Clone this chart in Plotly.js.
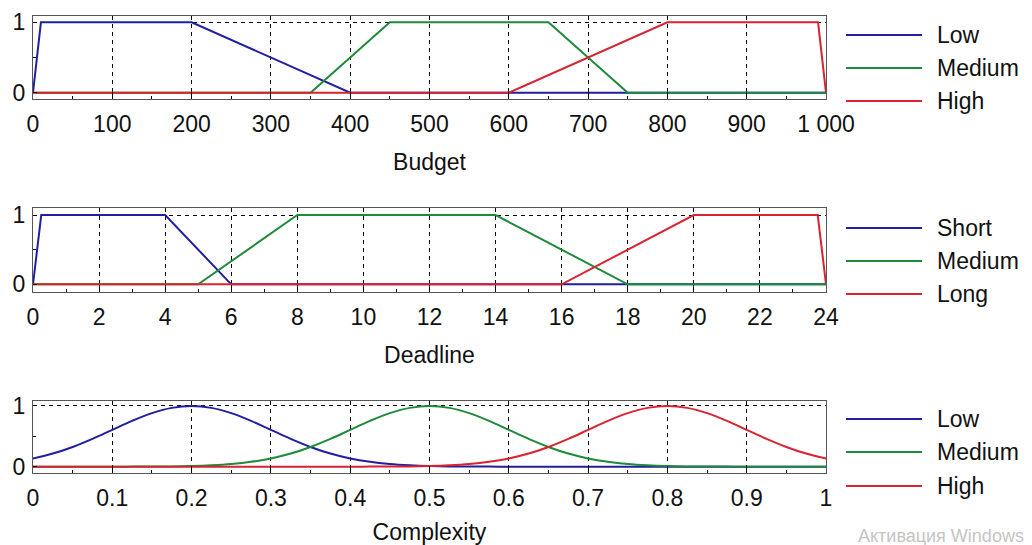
<!DOCTYPE html>
<html>
<head>
<meta charset="utf-8">
<script src="https://cdn.plot.ly/plotly-3.0.1.min.js"></script>
<style>html,body{margin:0;padding:0;background:#fff;}#chart{width:1032px;height:545px;}</style>
</head>
<body>
<div id="chart"></div>
<script>
// ---- Data ----
const budgetLowX  = [0, 10, 200, 400, 1000];
const budgetLowY  = [0, 1, 1, 0, 0];
const budgetMedX  = [0, 350, 450, 650, 750, 1000];
const budgetMedY  = [0, 0, 1, 1, 0, 0];
const budgetHighX = [0, 600, 800, 990, 1000];
const budgetHighY = [0, 0, 1, 1, 0];

const deadlineShortX = [0, 0.25, 4, 6, 24];
const deadlineShortY = [0, 1, 1, 0, 0];
const deadlineMedX   = [0, 5, 8, 14, 18, 24];
const deadlineMedY   = [0, 0, 1, 1, 0, 0];
const deadlineLongX  = [0, 16, 20, 23.75, 24];
const deadlineLongY  = [0, 0, 1, 1, 0];

const complexityX = [0, 0.025, 0.05, 0.075, 0.1, 0.125, 0.15, 0.175, 0.2, 0.225, 0.25, 0.275, 0.3, 0.325, 0.35, 0.375, 0.4, 0.425, 0.45, 0.475,
                     0.5, 0.525, 0.55, 0.575, 0.6, 0.625, 0.65, 0.675, 0.7, 0.725, 0.75, 0.775, 0.8, 0.825, 0.85, 0.875, 0.9, 0.925, 0.95, 0.975, 1];
const complexityLow = [0.135, 0.216, 0.325, 0.458, 0.607, 0.755, 0.882, 0.969, 1, 0.969, 0.882, 0.755, 0.607, 0.458, 0.325, 0.216, 0.135, 0.080, 0.044, 0.023,
                       0.011, 0.005, 0.002, 0.001, 0, 0, 0, 0, 0, 0, 0, 0, 0, 0, 0, 0, 0, 0, 0, 0, 0];
const complexityMed = [0, 0, 0, 0, 0, 0.001, 0.002, 0.005, 0.011, 0.023, 0.044, 0.080, 0.135, 0.216, 0.325, 0.458, 0.607, 0.755, 0.882, 0.969,
                       1, 0.969, 0.882, 0.755, 0.607, 0.458, 0.325, 0.216, 0.135, 0.080, 0.044, 0.023, 0.011, 0.005, 0.002, 0.001, 0, 0, 0, 0, 0];
const complexityHigh = [0, 0, 0, 0, 0, 0, 0, 0, 0, 0, 0, 0, 0, 0, 0, 0, 0, 0.001, 0.002, 0.005,
                        0.011, 0.023, 0.044, 0.080, 0.135, 0.216, 0.325, 0.458, 0.607, 0.755, 0.882, 0.969, 1, 0.969, 0.882, 0.755, 0.607, 0.458, 0.325, 0.216, 0.135];

const budgetTicks = [0, 100, 200, 300, 400, 500, 600, 700, 800, 900, 1000];
const budgetTickText = ['0', '100', '200', '300', '400', '500', '600', '700', '800', '900', '1 000'];
const deadlineTicks = [0, 2, 4, 6, 8, 10, 12, 14, 16, 18, 20, 22, 24];
const deadlineTickText = ['0', '2', '4', '6', '8', '10', '12', '14', '16', '18', '20', '22', '24'];
const complexityTicks = [0, 0.1, 0.2, 0.3, 0.4, 0.5, 0.6, 0.7, 0.8, 0.9, 1];
const complexityTickText = ['0', '0.1', '0.2', '0.3', '0.4', '0.5', '0.6', '0.7', '0.8', '0.9', '1'];
const yTicks = [0, 1];
const yTickText = ['0', '1'];

const axisTitles = ['Budget', 'Deadline', 'Complexity'];
const budgetNames = ['Low', 'Medium', 'High'];
const deadlineNames = ['Short', 'Medium', 'Long'];
const complexityNames = ['Low', 'Medium', 'High'];

// ---- Styling ----
const W = 1032, H = 545, L = 33, R = 206;
const colors = ['#1f1fa0', '#1e8a3a', '#d9232f'];
const FONT = '"Liberation Sans", Arial, sans-serif';
const px2x = p => (p - L) / (W - L - R);
const px2y = p => 1 - p / H;

function tr(x, y, name, c, xa, ya, shape) {
  return {x: x, y: y, name: name, type: 'scatter', mode: 'lines',
          line: {color: c, width: 2, shape: shape || 'linear'}, xaxis: xa, yaxis: ya, showlegend: false,
          hoverinfo: 'x+y+name'};
}
const traces = [
  tr(budgetLowX, budgetLowY, budgetNames[0], colors[0], 'x', 'y'),
  tr(budgetMedX, budgetMedY, budgetNames[1], colors[1], 'x', 'y'),
  tr(budgetHighX, budgetHighY, budgetNames[2], colors[2], 'x', 'y'),
  tr(deadlineShortX, deadlineShortY, deadlineNames[0], colors[0], 'x2', 'y2'),
  tr(deadlineMedX, deadlineMedY, deadlineNames[1], colors[1], 'x2', 'y2'),
  tr(deadlineLongX, deadlineLongY, deadlineNames[2], colors[2], 'x2', 'y2'),
  tr(complexityX, complexityLow, complexityNames[0], colors[0], 'x3', 'y3', 'spline'),
  tr(complexityX, complexityMed, complexityNames[1], colors[1], 'x3', 'y3', 'spline'),
  tr(complexityX, complexityHigh, complexityNames[2], colors[2], 'x3', 'y3', 'spline')
];

function xax(anchor, range, tv, tt, title, minorVals) {
  return {
    anchor: anchor, domain: [0, 1], range: range, tickmode: 'array', tickvals: tv, ticktext: tt,
    ticks: 'inside', ticklen: 7, tickcolor: '#000', tickfont: {family: FONT, size: 23, color: '#111'},
    ticklabelstandoff: 4,
    showgrid: true, gridcolor: '#000', gridwidth: 1, griddash: '4px,4px',
    showline: true, linecolor: '#555', linewidth: 1, mirror: true, zeroline: false,
    minor: {tickmode: 'array', tickvals: minorVals, ticks: 'inside', ticklen: 3, tickcolor: '#000', showgrid: false},
    title: {text: title, font: {family: FONT, size: 23, color: '#111'}, standoff: 17}
  };
}
function yax(anchor, domain, range) {
  return {
    anchor: anchor, domain: domain, range: range, tickmode: 'array', tickvals: yTicks, ticktext: yTickText,
    ticks: 'inside', ticklen: 4, tickcolor: '#000', tickfont: {family: FONT, size: 23, color: '#111'},
    ticklabelstandoff: 2,
    showgrid: true, gridcolor: '#000', gridwidth: 1, griddash: '4px,4px',
    showline: true, linecolor: '#555', linewidth: 1, mirror: true, zeroline: false,
    minor: {tickmode: 'array', tickvals: [0.5], ticks: 'inside', ticklen: 3, tickcolor: '#000', showgrid: false}
  };
}

const budgetMinor = [50, 150, 250, 350, 450, 550, 650, 750, 850, 950];
const deadlineMinor = [1, 3, 5, 7, 9, 11, 13, 15, 17, 19, 21, 23];
const complexityMinor = [0.05, 0.15, 0.25, 0.35, 0.45, 0.55, 0.65, 0.75, 0.85, 0.95];

// Legends drawn as line samples + text
const legendRows = [[35, 68, 101], [228, 261, 294], [419, 452, 486]];
const legendNames = [budgetNames, deadlineNames, complexityNames];
const shapes = [], annotations = [];
legendRows.forEach((rows, i) => {
  rows.forEach((py, j) => {
    shapes.push({type: 'line', xref: 'paper', yref: 'paper', x0: px2x(846), x1: px2x(922), y0: px2y(py), y1: px2y(py),
                 line: {color: colors[j], width: 2}});
    annotations.push({xref: 'paper', yref: 'paper', x: px2x(935), y: px2y(py), xanchor: 'left', yanchor: 'middle',
                      text: legendNames[i][j], showarrow: false, font: {family: FONT, size: 23, color: '#111'}});
  });
});
annotations.push({xref: 'paper', yref: 'paper', x: px2x(856), y: px2y(536), xanchor: 'left', yanchor: 'middle',
                  text: 'Активация Windows', showarrow: false, font: {family: FONT, size: 18, color: '#c4c4c4'}});

const layout = {
  width: W, height: H, margin: {l: L, r: R, t: 0, b: 0},
  paper_bgcolor: '#fff', plot_bgcolor: '#fff', showlegend: false,
  font: {family: FONT, size: 23, color: '#111'},
  xaxis: xax('y', [0, 1000], budgetTicks, budgetTickText, axisTitles[0], budgetMinor),
  yaxis: yax('x', [px2y(99.3), px2y(16)], [-0.094, 1.09]),
  xaxis2: xax('y2', [0, 24], deadlineTicks, deadlineTickText, axisTitles[1], deadlineMinor),
  yaxis2: yax('x2', [px2y(292.3), px2y(208.3)], [-0.115, 1.097]),
  xaxis3: xax('y3', [0, 1], complexityTicks, complexityTickText, axisTitles[2], complexityMinor),
  yaxis3: yax('x3', [px2y(473.3), px2y(401)], [-0.109, 1.082]),
  shapes: shapes, annotations: annotations
};

Plotly.newPlot('chart', traces, layout, {displayModeBar: false, staticPlot: true});
</script>
</body>
</html>
